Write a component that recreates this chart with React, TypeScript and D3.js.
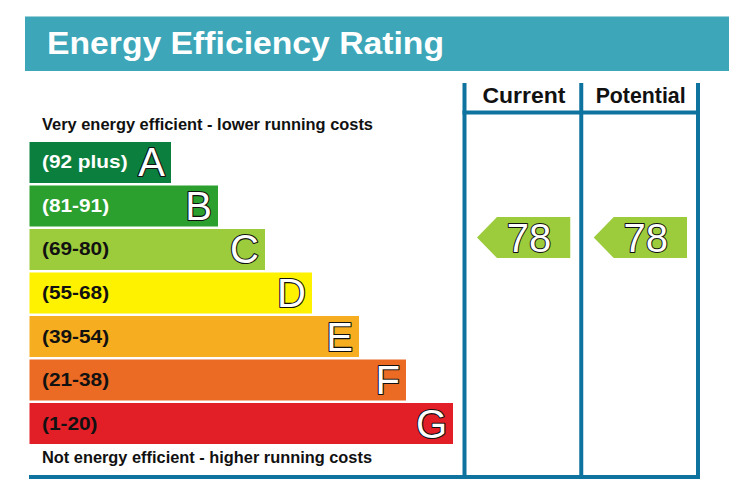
import React from "react";
import * as d3 from "d3";

const ratings = ["A", "B", "C", "D", "E", "F", "G"];
const ranges = ["(92 plus)", "(81-91)", "(69-80)", "(55-68)", "(39-54)", "(21-38)", "(1-20)"];
const lowerBounds = [92, 81, 69, 55, 39, 21, 1];
const upperBounds = [100, 91, 80, 68, 54, 38, 20];
const bandColors = ["#0b7f3e", "#2ba02f", "#9ccb3c", "#fff200", "#f6ad20", "#eb6a24", "#e21e27"];
const labelColors = ["#ffffff", "#ffffff", "#111111", "#111111", "#111111", "#111111", "#111111"];
const columns = ["Current", "Potential"];
const scores = [78, 78];
const titleText = "Energy Efficiency Rating";
const topNote = "Very energy efficient - lower running costs";
const bottomNote = "Not energy efficient - higher running costs";

const W = 729;
const H = 500;
const FONT = "'Liberation Sans', Arial, Helvetica, sans-serif";
const BLUE = "#0f73a0";
const STRETCH = 1.157;
const headerWidths = [83, 90];

export default function App() {
  const y = d3.scaleBand<string>().domain(ratings).range([142, 444]).paddingInner(0.0575).paddingOuter(0);
  const right = d3.scaleLinear().domain([0, ratings.length - 1]).range([171, 453]);
  const x0 = 29.5;
  const colX = d3.scaleBand<string>().domain(columns).range([464.5, 698]).padding(0);

  const scoreY = (s: number) => {
    const i = lowerBounds.findIndex((lb) => s >= lb);
    const r = ratings[i];
    const sc = d3
      .scaleLinear()
      .domain([upperBounds[i] + 0.5, lowerBounds[i] - 0.5])
      .range([y(r)!, y(r)! + y.bandwidth()]);
    return { y: sc(s), i };
  };

  const bottomY = 477;
  const topY = 83;
  const headerLineY = 112.5;
  const lineXs = [colX(columns[0])!, colX(columns[1])!, colX(columns[1])! + colX.bandwidth()];

  return (
    <svg width={W} height={H} style={{ position: "absolute", left: 0, top: 0, display: "block" }} fontFamily={FONT}>
      <rect x={0} y={0} width={W} height={H} fill="#ffffff" />
      {/* Header band */}
      <rect x={25} y={16.5} width={W - 25} height={54.5} fill="#3da6b8" />
      <text x={47} y={54} fill="#ffffff" fontSize={32} fontWeight="bold" textLength={397} lengthAdjust="spacingAndGlyphs">
        {titleText}
      </text>

      {/* column lines */}
      {lineXs.map((lx, k) => (
        <line key={k} x1={lx} x2={lx} y1={topY} y2={bottomY + 2} stroke={BLUE} strokeWidth={4} />
      ))}
      <line x1={lineXs[0] - 2} x2={lineXs[2] + 2} y1={headerLineY} y2={headerLineY} stroke={BLUE} strokeWidth={4} />
      <line x1={29} x2={lineXs[2] + 2} y1={bottomY} y2={bottomY} stroke={BLUE} strokeWidth={4} />

      {columns.map((c, k) => (
        <text
          key={c}
          x={colX(c)! + colX.bandwidth() / 2 + 1 - headerWidths[k] / 2}
          y={103}
          fontSize={21.5}
          fontWeight="bold"
          fill="#111"
          textLength={headerWidths[k]}
          lengthAdjust="spacingAndGlyphs"
        >
          {c}
        </text>
      ))}

      <text x={42} y={129.5} fontSize={16} fontWeight="bold" fill="#111" textLength={331} lengthAdjust="spacingAndGlyphs">
        {topNote}
      </text>
      <text x={42} y={463} fontSize={16} fontWeight="bold" fill="#111" textLength={330} lengthAdjust="spacingAndGlyphs">
        {bottomNote}
      </text>

      {ratings.map((r, i) => {
        const by = y(r)!;
        const bh = y.bandwidth();
        const rx = right(i);
        return (
          <g key={r}>
            <rect x={x0} y={by} width={rx - x0} height={bh} fill={bandColors[i]} />
            <text
              transform={`translate(42,${by + bh / 2 + 6}) scale(${STRETCH},1)`}
              fontSize={18}
              fontWeight="bold"
              fill={labelColors[i]}
            >
              {ranges[i]}
            </text>
            <text
              x={rx - 6}
              y={by + bh / 2 + 14}
              textAnchor="end"
              fontSize={40}
              fill="#ffffff"
              stroke="#111"
              strokeWidth={2.2}
              strokeLinejoin="round"
              paintOrder="stroke"
            >
              {r}
            </text>
          </g>
        );
      })}

      {columns.map((c, k) => {
        const { y: cy, i } = scoreY(scores[k]);
        const left = colX(c)! + 12.5;
        const rgt = colX(c)! + colX.bandwidth() - 11;
        const h = 41;
        const head = 20;
        const path = d3.path();
        path.moveTo(left, cy);
        path.lineTo(left + head, cy - h / 2);
        path.lineTo(rgt, cy - h / 2);
        path.lineTo(rgt, cy + h / 2);
        path.lineTo(left + head, cy + h / 2);
        path.closePath();
        return (
          <g key={c}>
            <path d={path.toString()} fill={bandColors[i]} />
            <text
              x={rgt - 19}
              y={cy + 14.5}
              textAnchor="end"
              fontSize={40}
              fill="#ffffff"
              stroke="#111"
              strokeWidth={2}
              strokeLinejoin="round"
              paintOrder="stroke"
            >
              {scores[k]}
            </text>
          </g>
        );
      })}
    </svg>
  );
}
